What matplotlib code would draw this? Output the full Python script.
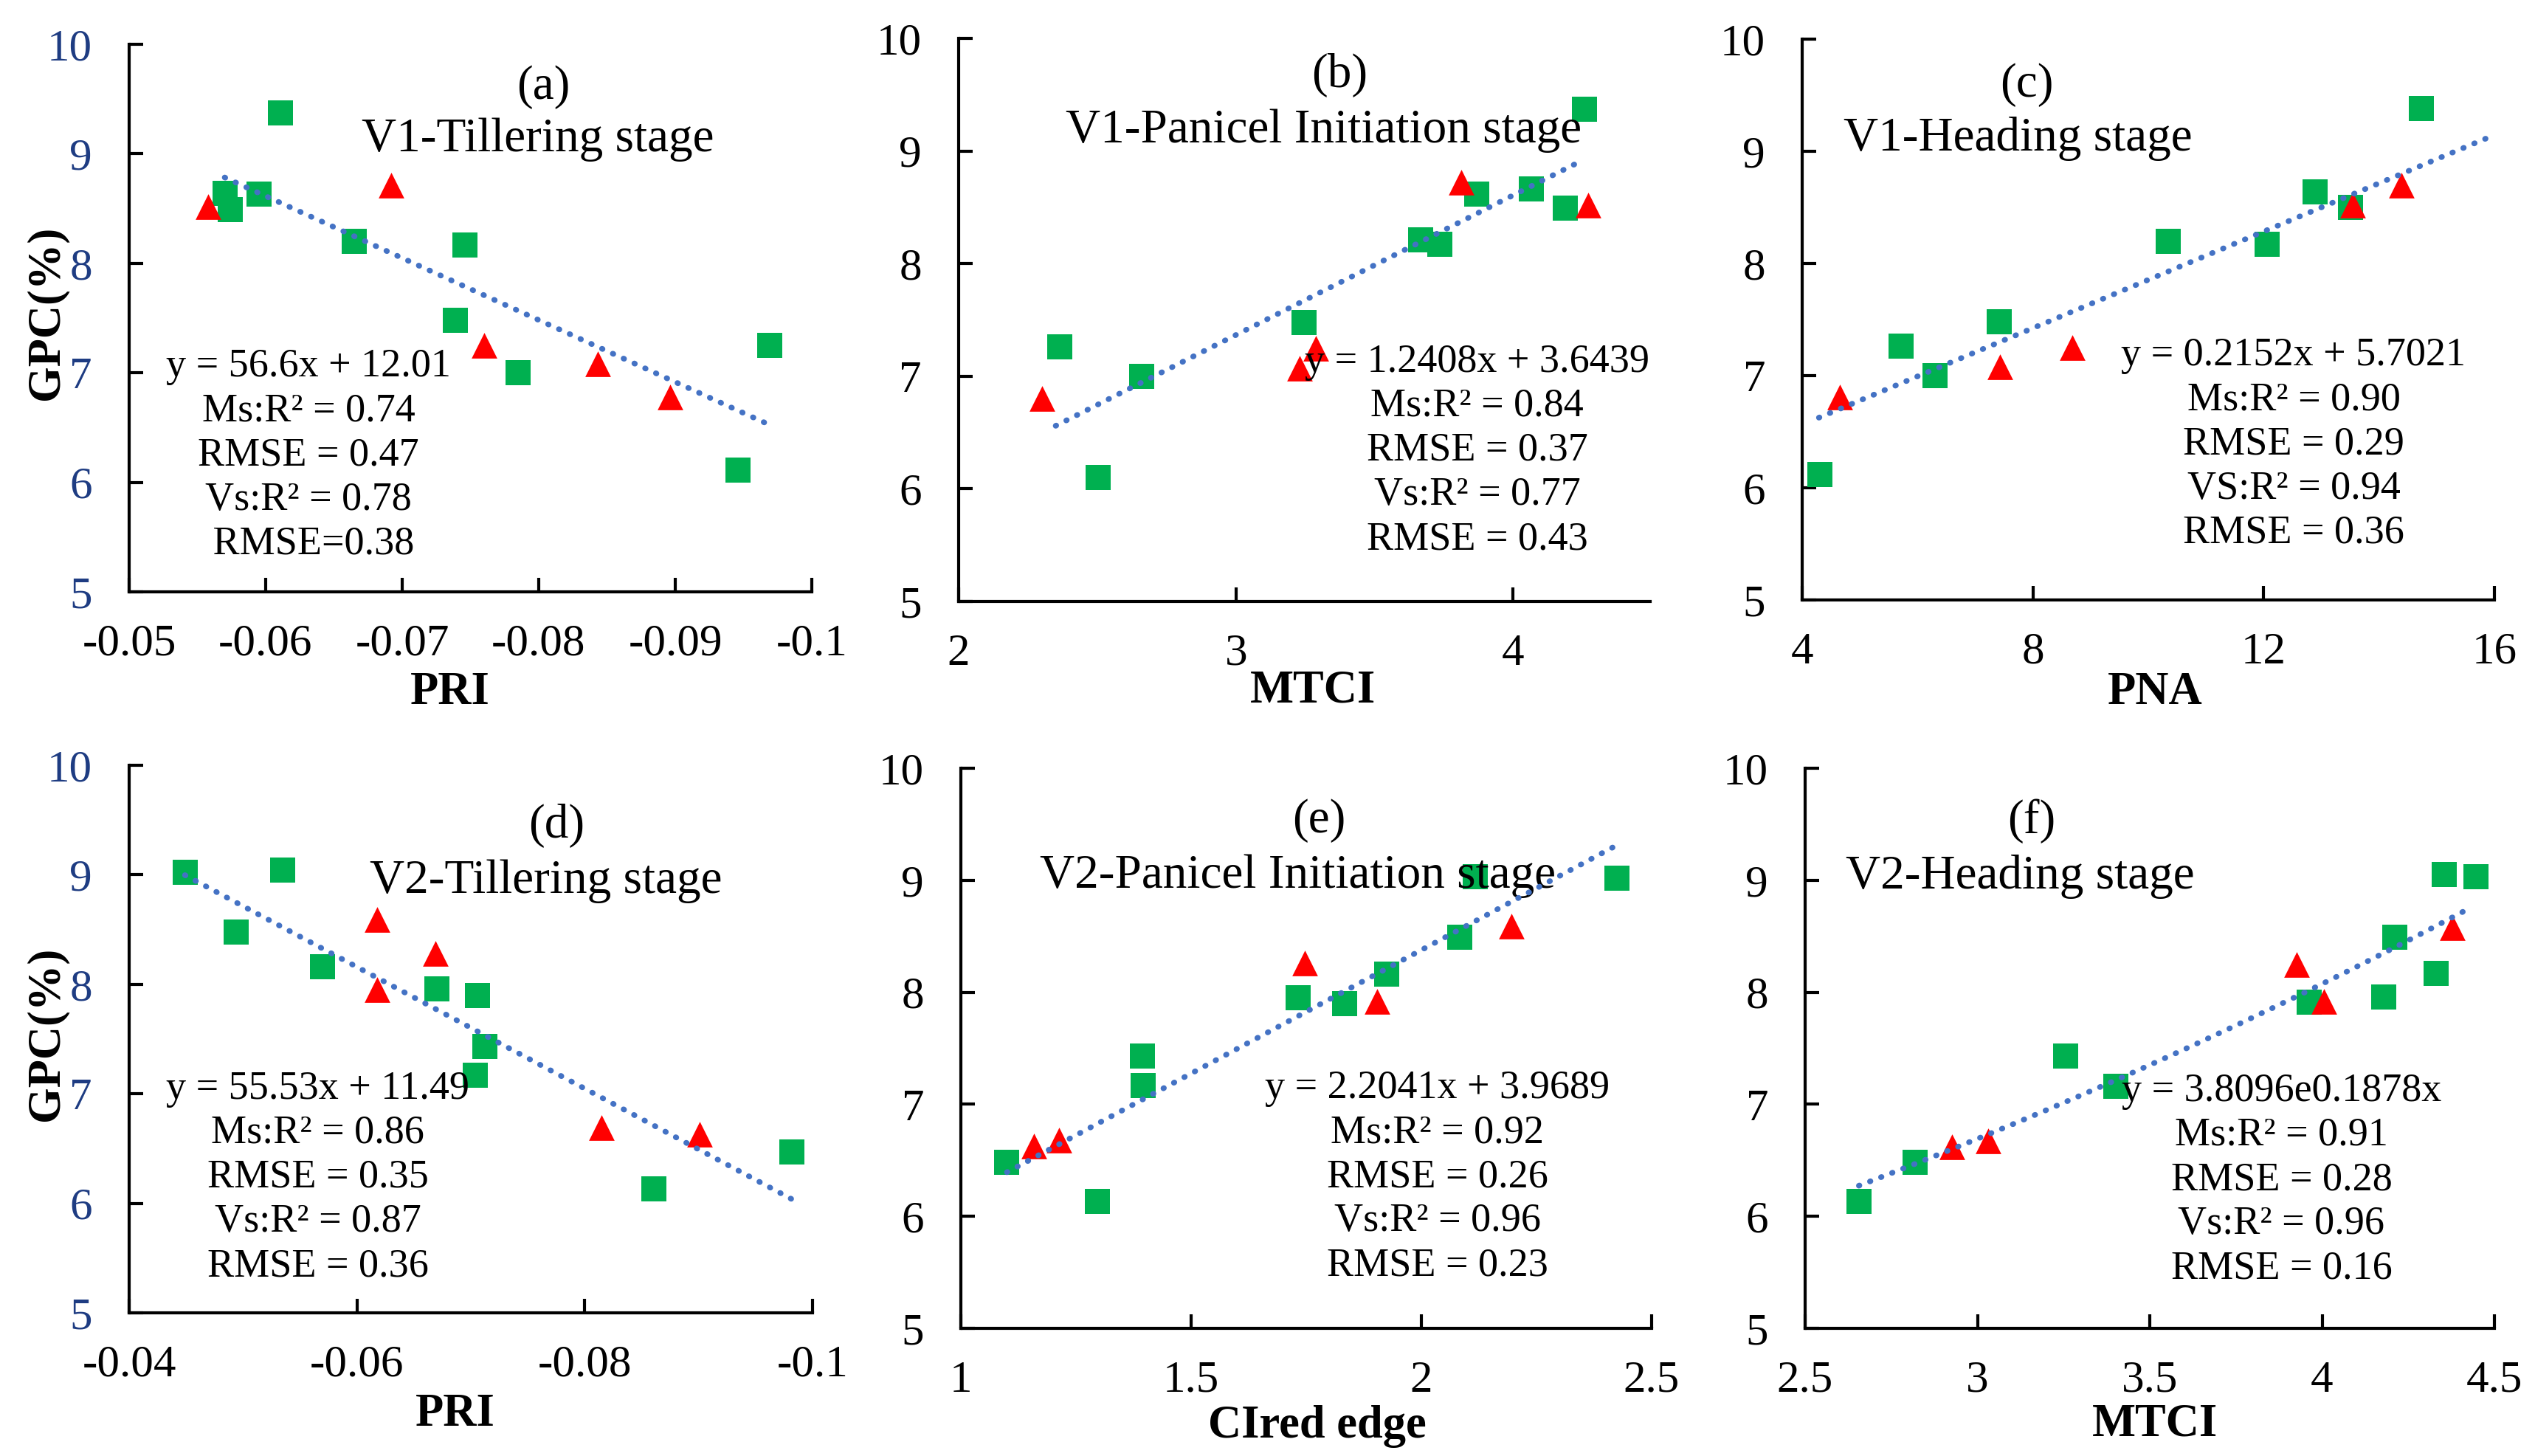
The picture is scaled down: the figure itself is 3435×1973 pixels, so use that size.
import numpy as np
import matplotlib
matplotlib.use('Agg')
import matplotlib.pyplot as plt

plt.rcParams['font.family'] = ['Liberation Serif', 'DejaVu Serif']

W, H = 3435, 1973

# ---- data (green = modelling set, red = validation set) ----
a_ms_x = [-0.0611, -0.0570, -0.0574, -0.0595, -0.0665, -0.0746, -0.0739, -0.0785, -0.0969, -0.0946]
a_ms_y = [9.37, 8.64, 8.49, 8.63, 8.20, 8.17, 7.48, 7.00, 7.25, 6.11]
a_vs_x = [-0.0558, -0.0692, -0.0760, -0.0843, -0.0896]
a_vs_y = [8.52, 8.71, 7.25, 7.08, 6.78]

b_ms_x = [4.257, 3.868, 4.066, 4.187, 3.667, 3.735, 3.245, 2.364, 2.660, 2.504]
b_ms_y = [9.37, 8.62, 8.66, 8.49, 8.21, 8.17, 7.48, 7.26, 7.00, 6.10]
b_vs_x = [3.813, 4.270, 3.288, 3.230, 2.302]
b_vs_y = [8.72, 8.52, 7.25, 7.07, 6.80]

c_ms_x = [4.31, 5.72, 6.30, 7.41, 10.34, 12.06, 12.89, 13.51, 14.73]
c_ms_y = [6.12, 7.26, 7.00, 7.48, 8.20, 8.17, 8.64, 8.50, 9.38]
c_vs_x = [4.65, 7.43, 8.68, 13.54, 14.39]
c_vs_y = [6.81, 7.08, 7.25, 8.52, 8.70]

d_ms_x = [-0.0449, -0.0535, -0.0494, -0.0570, -0.0670, -0.0706, -0.0712, -0.0704, -0.0861, -0.0982]
d_ms_y = [9.02, 9.04, 8.48, 8.16, 7.96, 7.90, 7.43, 7.17, 6.13, 6.47]
d_vs_x = [-0.0618, -0.0669, -0.0618, -0.0815, -0.0901]
d_vs_y = [8.59, 8.28, 7.95, 6.69, 6.63]

e_ms_x = [1.100, 1.297, 1.394, 1.396, 1.732, 1.834, 1.924, 2.084, 2.117, 2.425]
e_ms_y = [6.48, 6.13, 7.43, 7.17, 7.95, 7.90, 8.16, 8.49, 9.03, 9.02]
e_vs_x = [1.159, 1.213, 1.746, 1.904, 2.196]
e_vs_y = [6.63, 6.68, 8.26, 7.92, 8.59]

f_ms_x = [2.656, 2.818, 3.255, 3.402, 3.962, 4.179, 4.211, 4.330, 4.355, 4.446]
f_ms_y = [6.13, 6.48, 7.43, 7.16, 7.91, 7.96, 8.49, 8.17, 9.05, 9.03]
f_vs_x = [2.926, 3.032, 3.927, 4.006, 4.379]
f_vs_y = [6.62, 6.67, 8.25, 7.92, 8.58]

# trend lines: (slope/rate, intercept/coef, x start, x end)
a_fit = (56.6, 12.01, -0.0570, -0.0971)
b_fit = (1.2408, 3.6439, 2.35, 4.245)
c_fit = (0.2152, 5.7021, 4.29, 16.0)
d_fit = (55.53, 11.49, -0.0449, -0.0982)
e_fit = (2.2041, 3.9689, 1.10, 2.42)
f_fit = (0.1878, 3.8096, 2.656, 4.422)   # exponential

a_txt = ['y = 56.6x + 12.01', 'Ms:R² = 0.74', 'RMSE = 0.47', 'Vs:R² = 0.78', ' RMSE=0.38']
b_txt = ['y = 1.2408x + 3.6439', 'Ms:R² = 0.84', 'RMSE = 0.37', 'Vs:R² = 0.77', 'RMSE = 0.43']
c_txt = ['y = 0.2152x + 5.7021', 'Ms:R² = 0.90', 'RMSE = 0.29', 'VS:R² = 0.94', 'RMSE = 0.36']
d_txt = ['y = 55.53x + 11.49', 'Ms:R² = 0.86', 'RMSE = 0.35', 'Vs:R² = 0.87', 'RMSE = 0.36']
e_txt = ['y = 2.2041x + 3.9689', 'Ms:R² = 0.92', 'RMSE = 0.26', 'Vs:R² = 0.96', 'RMSE = 0.23']
f_txt = ['y = 3.8096e0.1878x', 'Ms:R² = 0.91', 'RMSE = 0.28', 'Vs:R² = 0.96', 'RMSE = 0.16']

GREEN = '#00B050'
RED = '#FF0000'
BLUE = '#4472C4'
NAVY = '#1E3C82'

fig = plt.figure(figsize=(W / 100, H / 100), dpi=100)


def make_axes(left, top, right, bottom):
    return fig.add_axes([left / W, (H - bottom) / H, (right - left) / W, (bottom - top) / H])


panels = [
    dict(box=(175, 60, 1100, 802), ms=(a_ms_x, a_ms_y), vs=(a_vs_x, a_vs_y), fit=a_fit, exp=False,
         xlim=(-0.05, -0.1), xticks=[-0.05, -0.06, -0.07, -0.08, -0.09, -0.1],
         xtl=['-0.05', '-0.06', '-0.07', '-0.08', '-0.09', '-0.1'],
         xlabel='PRI', xl=(0.47, 137), tag='(a)', tagpos=(0.607, 0.922),
         stage='V1-Tillering stage', stagepos=(0.599, 0.826),
         txt=a_txt, txtpos=(0.263, 0.249), ylab=True, ycol=NAVY),
    dict(box=(1299, 52, 2236, 815), ms=(b_ms_x, b_ms_y), vs=(b_vs_x, b_vs_y), fit=b_fit, exp=False,
         xlim=(2, 4.494), xticks=[2, 3, 4], xtl=['2', '3', '4'],
         xlabel='MTCI', xl=(0.512, 122), tag='(b)', tagpos=(0.551, 0.934),
         stage='V1-Panicel Initiation stage', stagepos=(0.528, 0.836),
         txt=b_txt, txtpos=(0.750, 0.268), ylab=False, ycol='black'),
    dict(box=(2442, 53, 3380, 813), ms=(c_ms_x, c_ms_y), vs=(c_vs_x, c_vs_y), fit=c_fit, exp=False,
         xlim=(4, 16), xticks=[4, 8, 12, 16], xtl=['4', '8', '12', '16'],
         xlabel='PNA', xl=(0.51, 126), tag='(c)', tagpos=(0.324, 0.918),
         stage='V1-Heading stage', stagepos=(0.312, 0.823),
         txt=c_txt, txtpos=(0.710, 0.277), ylab=False, ycol='black'),
    dict(box=(175, 1037, 1101, 1779), ms=(d_ms_x, d_ms_y), vs=(d_vs_x, d_vs_y), fit=d_fit, exp=False,
         xlim=(-0.04, -0.1), xticks=[-0.04, -0.06, -0.08, -0.1],
         xtl=['-0.04', '-0.06', '-0.08', '-0.1'],
         xlabel='PRI', xl=(0.477, 138), tag='(d)', tagpos=(0.626, 0.890),
         stage='V2-Tillering stage', stagepos=(0.610, 0.788),
         txt=d_txt, txtpos=(0.276, 0.247), ylab=True, ycol=NAVY),
    dict(box=(1302, 1041, 2238, 1800), ms=(e_ms_x, e_ms_y), vs=(e_vs_x, e_vs_y), fit=e_fit, exp=False,
         xlim=(1, 2.5), xticks=[1, 1.5, 2, 2.5], xtl=['1', '1.5', '2', '2.5'],
         xlabel='CIred edge', xl=(0.516, 133), tag='(e)', tagpos=(0.519, 0.906),
         stage='V2-Panicel Initiation stage', stagepos=(0.488, 0.807),
         txt=e_txt, txtpos=(0.690, 0.270), ylab=False, ycol='black'),
    dict(box=(2446, 1041, 3380, 1800), ms=(f_ms_x, f_ms_y), vs=(f_vs_x, f_vs_y), fit=f_fit, exp=True,
         xlim=(2.5, 4.5), xticks=[2.5, 3, 3.5, 4, 4.5], xtl=['2.5', '3', '3.5', '4', '4.5'],
         xlabel='MTCI', xl=(0.508, 131), tag='(f)', tagpos=(0.328, 0.906),
         stage='V2-Heading stage', stagepos=(0.312, 0.806),
         txt=f_txt, txtpos=(0.691, 0.265), ylab=False, ycol='black'),
]

for p in panels:
    ax = make_axes(*p['box'])
    ax_w = p['box'][2] - p['box'][0]
    ax_h = p['box'][3] - p['box'][1]

    ax.scatter(p['ms'][0], p['ms'][1], marker='s', s=25 ** 2, color=GREEN, linewidths=0, zorder=3)
    ax.scatter(p['vs'][0], p['vs'][1], marker='^', s=25 ** 2, color=RED, linewidths=0, zorder=4)

    k, b0, x0, x1 = p['fit']
    xs = np.linspace(x0, x1, 50)
    ys = b0 * np.exp(k * xs) if p['exp'] else k * xs + b0
    ax.plot(xs, ys, color=BLUE, lw=5.5, linestyle=(0, (0.1, 2.0)),
            dash_capstyle='round', zorder=5)

    ax.set_xlim(*p['xlim'])
    ax.set_ylim(5, 10)
    ax.set_xticks(p['xticks'])
    ax.set_xticklabels(p['xtl'])
    ax.set_yticks([5, 6, 7, 8, 9, 10])
    for s in ['top', 'right']:
        ax.spines[s].set_visible(False)
    for s in ['left', 'bottom']:
        ax.spines[s].set_linewidth(3)
    ax.tick_params(direction='in', length=14, width=3, labelsize=44)
    ax.tick_params(axis='x', pad=31)
    ax.tick_params(axis='y', pad=36, labelcolor=p['ycol'])

    ax.text(p['xl'][0], -p['xl'][1] / ax_h, p['xlabel'], transform=ax.transAxes,
            ha='center', va='center', fontsize=45, fontweight='bold')
    if p['ylab']:
        ax.text(-112 / ax_w, 0.51, 'GPC(%)', transform=ax.transAxes,
                rotation=90, ha='center', va='center', fontsize=45, fontweight='bold')

    ax.text(*p['tagpos'], p['tag'], transform=ax.transAxes, ha='center', va='center', fontsize=47)
    ax.text(*p['stagepos'], p['stage'], transform=ax.transAxes, ha='center', va='center', fontsize=47)
    ax.text(*p['txtpos'], '\n'.join(p['txt']), transform=ax.transAxes, ha='center', va='center',
            fontsize=39, linespacing=1.25, zorder=6)

fig.savefig('out.png', dpi=100)
